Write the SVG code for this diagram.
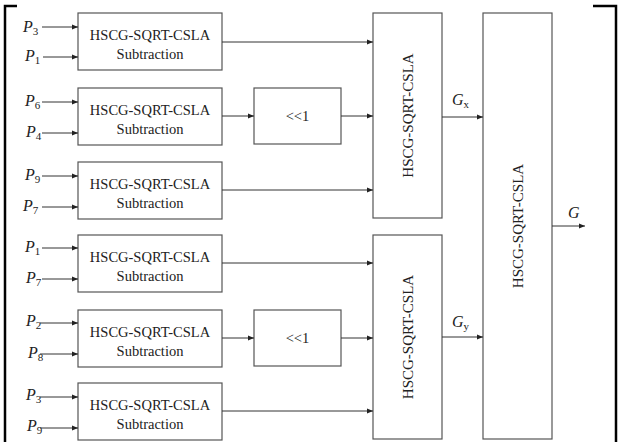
<svg xmlns="http://www.w3.org/2000/svg" width="618" height="442" viewBox="0 0 618 442">
<style>
.box{fill:#fff;stroke:#555;stroke-width:1.2}
.t{font-family:"Liberation Serif","DejaVu Serif","Times New Roman",serif;font-size:14.5px;fill:#222;text-anchor:middle}
.tv{font-family:"Liberation Serif","DejaVu Serif","Times New Roman",serif;font-size:15px;fill:#222;text-anchor:middle}
.p{font-family:"Liberation Serif","DejaVu Serif","Times New Roman",serif;font-size:16px;font-style:italic;fill:#222}
.sub{font-size:11px;font-style:normal}
.c{stroke:#333;stroke-width:1;fill:none;marker-end:url(#ah)}
.frame{stroke:#000;stroke-width:2.5;fill:none}
</style>
<defs>
<marker id="ah" markerUnits="userSpaceOnUse" markerWidth="6" markerHeight="6" refX="6" refY="3" orient="auto">
<path d="M0,0.5 L6,3 L0,5.5 Z" fill="#222"/>
</marker>
</defs>
<g id="frame">
<path class="frame" d="M17,6 H5 V442"/>
<path class="frame" d="M593,6 H616 V442"/>
</g>
<g id="sub1"><rect class="box" x="78" y="13" width="144" height="57"/><text class="t" x="150" y="40">HSCG-SQRT-CSLA</text><text class="t" x="150" y="59">Subtraction</text></g>
<g id="sub2"><rect class="box" x="78" y="88" width="144" height="57"/><text class="t" x="150" y="115">HSCG-SQRT-CSLA</text><text class="t" x="150" y="134">Subtraction</text></g>
<g id="sub3"><rect class="box" x="78" y="162" width="144" height="57"/><text class="t" x="150" y="189">HSCG-SQRT-CSLA</text><text class="t" x="150" y="208">Subtraction</text></g>
<g id="sub4"><rect class="box" x="78" y="235" width="144" height="57"/><text class="t" x="150" y="262">HSCG-SQRT-CSLA</text><text class="t" x="150" y="281">Subtraction</text></g>
<g id="sub5"><rect class="box" x="78" y="310" width="144" height="57"/><text class="t" x="150" y="337">HSCG-SQRT-CSLA</text><text class="t" x="150" y="356">Subtraction</text></g>
<g id="sub6"><rect class="box" x="78" y="383" width="144" height="57"/><text class="t" x="150" y="410">HSCG-SQRT-CSLA</text><text class="t" x="150" y="429">Subtraction</text></g>
<g id="shift1"><rect class="box" x="254" y="88" width="87" height="56"/><text class="t" x="297.5" y="121">&lt;&lt;1</text></g>
<g id="shift2"><rect class="box" x="254" y="310" width="87" height="56"/><text class="t" x="297.5" y="343">&lt;&lt;1</text></g>
<g id="addx"><rect class="box" x="373" y="13" width="69" height="205"/><text class="tv" transform="translate(412.5,115.5) rotate(-90)">HSCG-SQRT-CSLA</text></g>
<g id="addy"><rect class="box" x="373" y="235" width="69" height="204"/><text class="tv" transform="translate(412.5,337) rotate(-90)">HSCG-SQRT-CSLA</text></g>
<g id="addg"><rect class="box" x="483" y="13" width="69" height="426"/><text class="tv" transform="translate(522.5,226) rotate(-90)">HSCG-SQRT-CSLA</text></g>
<g id="labels">
<text class="p" x="23" y="32">P<tspan class="sub" dy="3">3</tspan></text>
<text class="p" x="25" y="61">P<tspan class="sub" dy="3">1</tspan></text>
<text class="p" x="25" y="106">P<tspan class="sub" dy="3">6</tspan></text>
<text class="p" x="26" y="137">P<tspan class="sub" dy="3">4</tspan></text>
<text class="p" x="25" y="180">P<tspan class="sub" dy="3">9</tspan></text>
<text class="p" x="23" y="211">P<tspan class="sub" dy="3">7</tspan></text>
<text class="p" x="25" y="252">P<tspan class="sub" dy="3">1</tspan></text>
<text class="p" x="26" y="283">P<tspan class="sub" dy="3">7</tspan></text>
<text class="p" x="26" y="326">P<tspan class="sub" dy="3">2</tspan></text>
<text class="p" x="28" y="358">P<tspan class="sub" dy="3">8</tspan></text>
<text class="p" x="26" y="400">P<tspan class="sub" dy="3">3</tspan></text>
<text class="p" x="27" y="431">P<tspan class="sub" dy="3">9</tspan></text>
<text class="p" x="452" y="105">G<tspan class="sub" dy="3" font-style="italic">x</tspan></text>
<text class="p" x="452" y="327">G<tspan class="sub" dy="3" font-style="italic">y</tspan></text>
<text class="p" x="568" y="218">G</text>
</g>
<g id="connectors">
<line class="c" x1="42" y1="27" x2="78" y2="27"/>
<line class="c" x1="43" y1="57" x2="78" y2="57"/>
<line class="c" x1="42" y1="102" x2="78" y2="102"/>
<line class="c" x1="42" y1="133" x2="78" y2="133"/>
<line class="c" x1="42" y1="176" x2="78" y2="176"/>
<line class="c" x1="42" y1="207" x2="78" y2="207"/>
<line class="c" x1="42" y1="248" x2="78" y2="248"/>
<line class="c" x1="42" y1="279" x2="78" y2="279"/>
<line class="c" x1="40" y1="323" x2="78" y2="323"/>
<line class="c" x1="40" y1="354" x2="78" y2="354"/>
<line class="c" x1="40" y1="397" x2="78" y2="397"/>
<line class="c" x1="40" y1="428" x2="78" y2="428"/>
<line class="c" x1="222" y1="42" x2="373" y2="42"/>
<line class="c" x1="222" y1="116" x2="254" y2="116"/>
<line class="c" x1="341" y1="116" x2="373" y2="116"/>
<line class="c" x1="222" y1="190" x2="373" y2="190"/>
<line class="c" x1="222" y1="263" x2="373" y2="263"/>
<line class="c" x1="222" y1="338" x2="254" y2="338"/>
<line class="c" x1="341" y1="338" x2="373" y2="338"/>
<line class="c" x1="222" y1="411" x2="373" y2="411"/>
<line class="c" x1="442" y1="117" x2="483" y2="117"/>
<line class="c" x1="442" y1="337" x2="483" y2="337"/>
<line class="c" x1="552" y1="226" x2="585" y2="226"/>
</g>
</svg>
